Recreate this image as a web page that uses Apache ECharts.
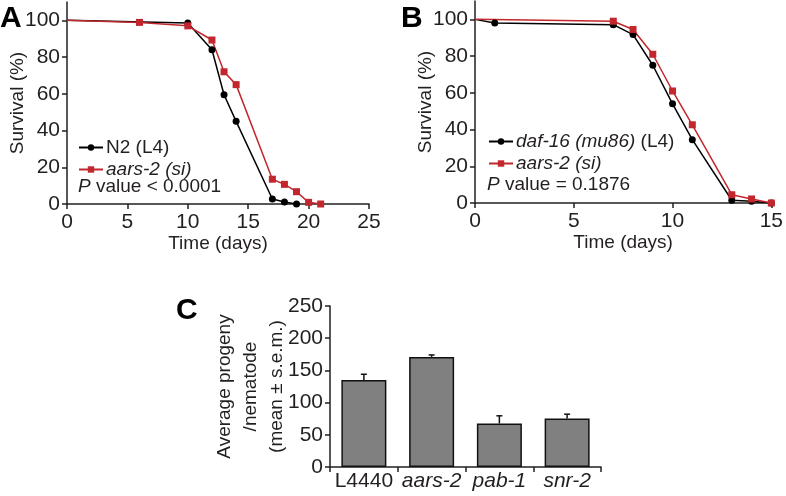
<!DOCTYPE html>
<html><head><meta charset="utf-8">
<script src="https://cdn.jsdelivr.net/npm/echarts@6/dist/echarts.min.js"></script>
<style>html,body{margin:0;padding:0;background:#fff}#c{width:786px;height:496px}</style>
</head><body><div id="c"></div>
<script>
// ---- data ----
const daysA_N2 = [0, 10, 12, 13, 14, 17, 18, 19];
const survA_N2 = [100, 98.5, 84, 59.5, 45, 2.7, 1.1, 0];
const daysA_aars = [0, 6, 10, 12, 13, 14, 17, 18, 19, 20, 21];
const survA_aars = [100, 98.9, 97, 89.3, 72, 65, 13.5, 10.7, 6.7, 0.9, 0];
const daysB_daf = [0, 1, 7, 8, 9, 10, 11, 13, 14, 15];
const survB_daf = [100, 98, 97.1, 91.7, 75, 54, 34.5, 1.5, 1, 0];
const daysB_aars = [0, 7, 8, 9, 10, 11, 13, 14, 15];
const survB_aars = [100, 99, 94.5, 81, 61, 42.6, 4.5, 2.2, 0];
const progenyCats = ['L4440', 'aars-2', 'pab-1', 'snr-2'];
const progenyMean = [135, 171, 67.5, 75.5];
const progenySem = [9, 3, 12, 6.5];
const survivalTicks = [0, 20, 40, 60, 80, 100];

// ---- styling ----
const FONT = '"Liberation Sans", Arial, Helvetica, sans-serif';
const TXT = '#231f20';
const RED = '#c1272d';
const FS = 19;
const TFS = 21;

function pts(days, surv) {
  return days.map((d, i) => i === 0 ? { value: [d, surv[i]], symbol: 'none' } : [d, surv[i]]);
}

const labelMap = {
  'N2 (L4)': 'N2 (L4)',
  'aars-2 (si) A': '{i|aars-2 (si)}',
  'daf-16 (mu86) (L4)': '{i|daf-16 (mu86)} (L4)',
  'aars-2 (si) B': '{i|aars-2 (si)}'
};

const axisLineStyle = { show: true, lineStyle: { color: TXT, width: 1.5 } };
const tickStyle = { show: true, length: 5, lineStyle: { color: TXT, width: 1.5 } };
const labelStyle = { color: TXT, fontSize: TFS, fontFamily: FONT };
const nameStyle = { color: TXT, fontSize: FS, fontFamily: FONT };

function survX(idx, max) {
  return {
    type: 'value', gridIndex: idx, min: 0, max: max, interval: 5,
    axisLine: axisLineStyle, axisTick: tickStyle, splitLine: { show: false },
    axisLabel: Object.assign({ margin: 8 }, labelStyle),
    name: 'Time (days)', nameLocation: 'middle', nameGap: 30, nameMoveOverlap: false, nameTextStyle: nameStyle
  };
}
function survY(idx) {
  return {
    type: 'value', gridIndex: idx, min: 0, max: 110,
    axisLine: axisLineStyle,
    axisTick: Object.assign({ customValues: survivalTicks }, tickStyle),
    splitLine: { show: false },
    axisLabel: Object.assign({ margin: 7, customValues: survivalTicks }, labelStyle),
    name: 'Survival (%)', nameLocation: 'middle', nameGap: 40, nameMoveOverlap: false, nameTextStyle: nameStyle
  };
}
function legend(left, top, names) {
  return {
    left: left, top: top, orient: 'vertical', data: names, selectedMode: false,
    itemWidth: 24, itemHeight: 8, itemGap: 3,
    formatter: n => labelMap[n],
    textStyle: { color: TXT, fontSize: FS, fontFamily: FONT, padding: [0, 0, 0, -2],
      rich: { i: { fontStyle: 'italic', fontSize: FS, fontFamily: FONT, color: TXT } } }
  };
}
function lineSeries(name, xi, days, surv, color, symbol) {
  return {
    type: 'line', name: name, xAxisIndex: xi, yAxisIndex: xi,
    data: pts(days, surv), symbol: symbol, symbolSize: 7,
    lineStyle: { color: color, width: 1.5 }, itemStyle: { color: color },
    animation: false
  };
}

const chart = echarts.init(document.getElementById('c'), null, { renderer: 'canvas' });
chart.setOption({
  animation: false,
  backgroundColor: '#fff',
  textStyle: { fontFamily: FONT },
  grid: [
    { left: 67, top: 2, width: 302, height: 202 },
    { left: 475, top: 1, width: 300, height: 202 },
    { left: 330, top: 306, width: 271, height: 161 }
  ],
  xAxis: [
    survX(0, 25),
    survX(1, 15),
    {
      type: 'category', gridIndex: 2, data: progenyCats,
      axisLine: axisLineStyle, axisTick: tickStyle,
      axisLabel: Object.assign({ margin: 4, interval: 0,
        formatter: v => v === 'L4440' ? v : '{i|' + v + '}',
        rich: { i: { fontStyle: 'italic', fontSize: TFS, fontFamily: FONT, color: TXT } } }, labelStyle)
    }
  ],
  yAxis: [
    survY(0),
    survY(1),
    {
      type: 'value', gridIndex: 2, min: 0, max: 250, interval: 50,
      axisLine: axisLineStyle, axisTick: tickStyle, splitLine: { show: false },
      axisLabel: Object.assign({ margin: 7 }, labelStyle),
      name: 'Average progeny\n/nematode\n(mean ± s.e.m.)', nameLocation: 'middle', nameGap: 40, nameMoveOverlap: false,
      nameTextStyle: Object.assign({ lineHeight: 26 }, nameStyle)
    }
  ],
  legend: [
    legend(73, 133, ['N2 (L4)', 'aars-2 (si) A']),
    legend(483, 127, ['daf-16 (mu86) (L4)', 'aars-2 (si) B'])
  ],
  graphic: [
    { type: 'text', left: 0, top: 4, style: { text: 'A', font: 'bold 30px ' + FONT, fill: '#000' } },
    { type: 'text', left: 401, top: 4, style: { text: 'B', font: 'bold 30px ' + FONT, fill: '#000' } },
    { type: 'text', left: 176, top: 296, style: { text: 'C', font: 'bold 30px ' + FONT, fill: '#000' } },
    { type: 'text', left: 78, top: 177, style: { text: '{i|P} value < 0.0001', fontSize: FS, fontFamily: FONT, fill: TXT,
      rich: { i: { fontStyle: 'italic', fontSize: FS, fontFamily: FONT, fill: TXT } } } },
    { type: 'text', left: 487, top: 175, style: { text: '{i|P} value = 0.1876', fontSize: FS, fontFamily: FONT, fill: TXT,
      rich: { i: { fontStyle: 'italic', fontSize: FS, fontFamily: FONT, fill: TXT } } } }
  ],
  series: [
    lineSeries('N2 (L4)', 0, daysA_N2, survA_N2, '#000', 'circle'),
    lineSeries('aars-2 (si) A', 0, daysA_aars, survA_aars, RED, 'rect'),
    lineSeries('daf-16 (mu86) (L4)', 1, daysB_daf, survB_daf, '#000', 'circle'),
    lineSeries('aars-2 (si) B', 1, daysB_aars, survB_aars, RED, 'rect'),
    {
      type: 'bar', xAxisIndex: 2, yAxisIndex: 2, data: progenyMean, barWidth: 45,
      itemStyle: { color: '#808080', borderColor: '#111', borderWidth: 1.5 }
    },
    {
      type: 'custom', xAxisIndex: 2, yAxisIndex: 2, z: 5,
      data: progenyCats.map((c, i) => [i, progenyMean[i], progenySem[i]]),
      renderItem: function (params, api) {
        const p0 = api.coord([api.value(0), api.value(1)]);
        const p1 = api.coord([api.value(0), api.value(1) + api.value(2)]);
        const hw = 3;
        return { type: 'group', children: [
          { type: 'line', shape: { x1: p0[0], y1: p0[1], x2: p1[0], y2: p1[1] }, style: { stroke: '#111', lineWidth: 1.5 } },
          { type: 'line', shape: { x1: p1[0] - hw, y1: p1[1], x2: p1[0] + hw, y2: p1[1] }, style: { stroke: '#111', lineWidth: 1.5 } }
        ] };
      }
    }
  ]
});
</script>
</body></html>
